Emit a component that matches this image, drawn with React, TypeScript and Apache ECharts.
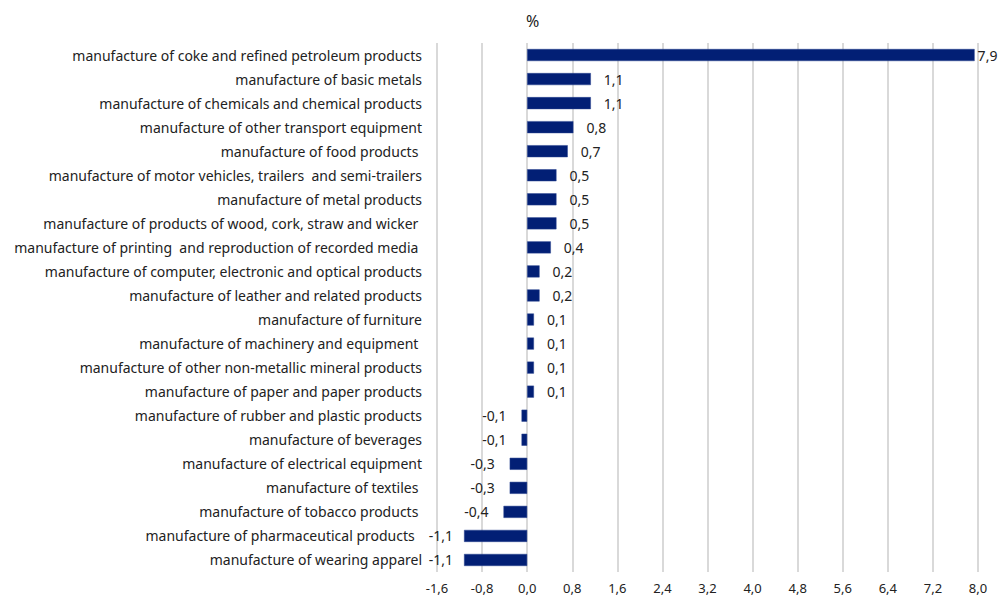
import React, { useEffect, useRef } from "react";
import * as echarts from "echarts";

const categories = [
  "manufacture of coke and refined petroleum products",
  "manufacture of basic metals",
  "manufacture of chemicals and chemical products",
  "manufacture of other transport equipment",
  "manufacture of food products ",
  "manufacture of motor vehicles, trailers  and semi-trailers",
  "manufacture of metal products",
  "manufacture of products of wood, cork, straw and wicker ",
  "manufacture of printing  and reproduction of recorded media ",
  "manufacture of computer, electronic and optical products",
  "manufacture of leather and related products",
  "manufacture of furniture",
  "manufacture of machinery and equipment ",
  "manufacture of other non-metallic mineral products",
  "manufacture of paper and paper products",
  "manufacture of rubber and plastic products",
  "manufacture of beverages",
  "manufacture of electrical equipment",
  "manufacture of textiles ",
  "manufacture of tobacco products ",
  "manufacture of pharmaceutical products  ",
  "manufacture of wearing apparel",
];

const values = [
  7.94, 1.13, 1.13, 0.82, 0.72, 0.52, 0.52, 0.52, 0.42, 0.22, 0.22, 0.12, 0.12,
  0.12, 0.12, -0.1, -0.1, -0.31, -0.31, -0.42, -1.12, -1.12,
];

const xTicks = { min: -1.6, max: 8.0, interval: 0.8 };
const unitLabel = "%";

const fmt = (v: number) => v.toFixed(1).replace(".", ",");

export default function App() {
  const ref = useRef<HTMLDivElement>(null);
  useEffect(() => {
    if (!ref.current) return;
    const chart = echarts.init(ref.current, undefined, { renderer: "svg" });
    const fontFamily = "'Noto Sans', Roboto, sans-serif";
    chart.setOption({
      animation: false,
      backgroundColor: "#ffffff",
      textStyle: { fontFamily },
      graphic: [
        {
          type: "text",
          left: 526,
          top: 13,
          style: { text: unitLabel, fontSize: 16, fill: "#222", fontFamily },
        },
      ],
      grid: { left: 437, right: 23, top: 43, bottom: 24, containLabel: false },
      xAxis: {
        type: "value",
        min: xTicks.min,
        max: xTicks.max,
        interval: xTicks.interval,
        axisLine: { show: false },
        axisTick: { show: false },
        splitLine: { show: true, lineStyle: { color: "#d9d9d9", width: 2 } },
        axisLabel: {
          formatter: (v: number) => fmt(v),
          color: "#222",
          fontSize: 13,
          margin: 9,
          fontFamily,
        },
      },
      yAxis: {
        type: "category",
        data: categories,
        inverse: true,
        axisLine: { show: false },
        axisTick: { show: false },
        splitLine: { show: false },
        axisLabel: { color: "#222", fontSize: 14, margin: 15, fontFamily },
      },
      series: [
        {
          type: "bar",
          data: values.map((v, i) => ({
            value: v,
            label:
              i === 0
                ? { position: "right", distance: 3 }
                : v < 0
                ? { position: "left", distance: v < -1 ? 11 : 15 }
                : { position: "right", distance: 13 },
          })),
          barWidth: "50%",
          itemStyle: { color: "#021f75", borderColor: "#2b4590", borderWidth: 0.5 },
          label: {
            show: true,
            formatter: (p: any) => fmt(p.value),
            color: "#222",
            fontSize: 14,
            fontFamily,
          },
        },
      ],
    });
    return () => chart.dispose();
  }, []);
  return (
    <div
      ref={ref}
      style={{ position: "fixed", left: 0, top: 0, width: 1001, height: 596 }}
    />
  );
}
